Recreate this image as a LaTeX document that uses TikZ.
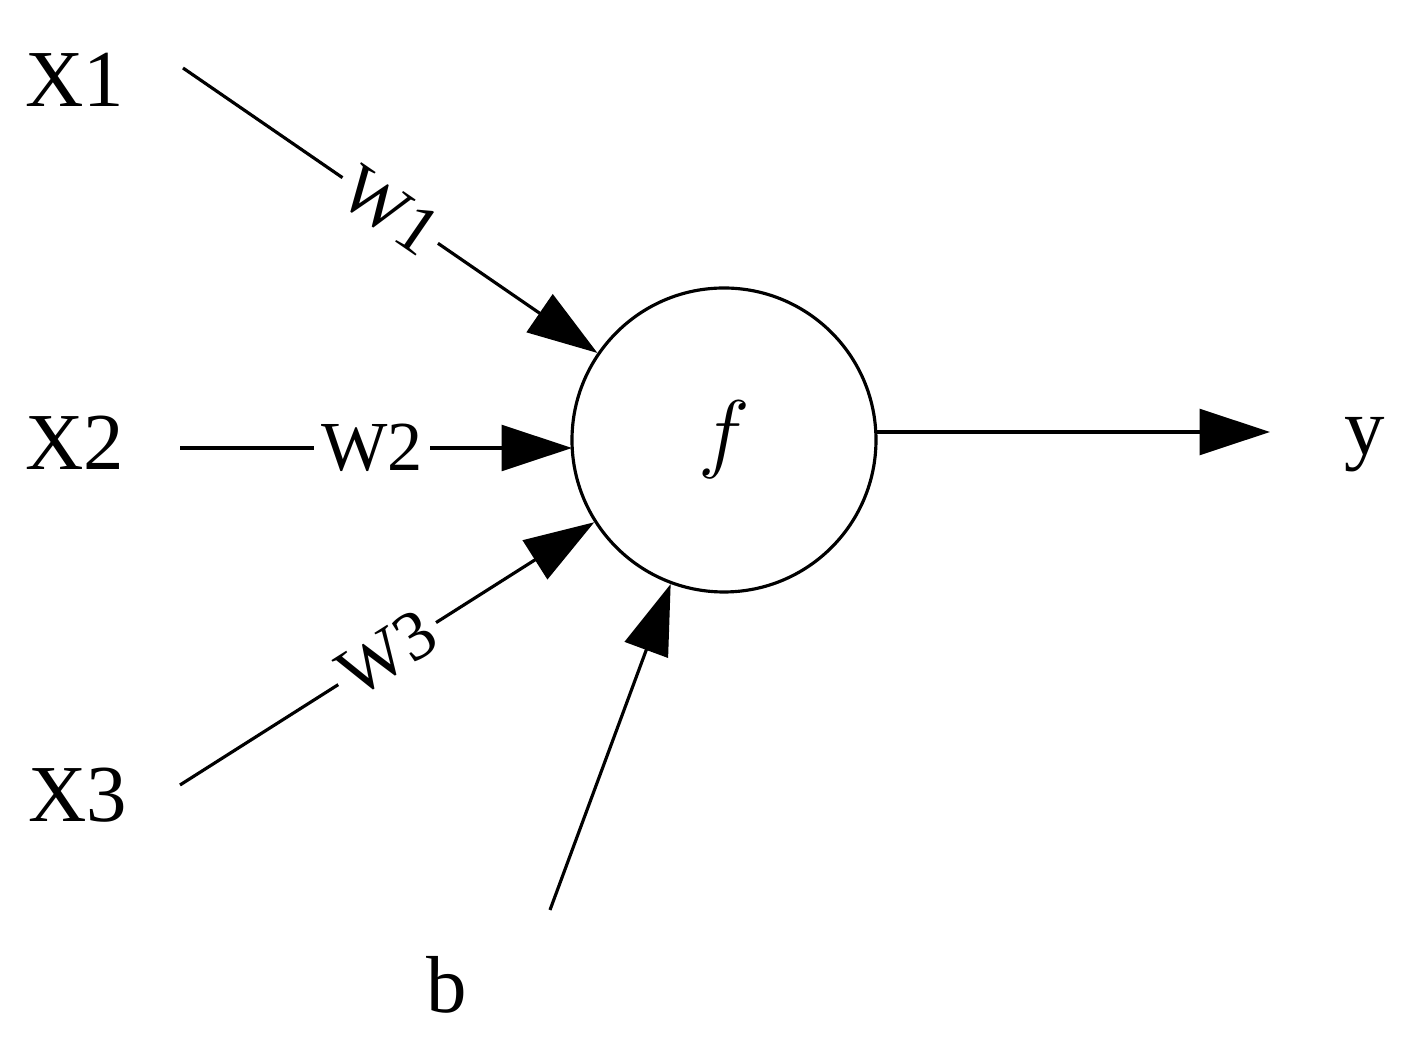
\documentclass[tikz,border=0pt]{standalone}
\usepackage{fontspec}
\setmainfont{Liberation Serif}
\usetikzlibrary{arrows.meta}
\begin{document}
\begin{tikzpicture}[x=1cm,y=-1cm,
  txt/.style={font=\fontsize{23}{26}\selectfont},
  wt/.style={font=\fontsize{20}{22}\selectfont,fill=white,inner sep=2pt},
  arr/.style={line width=0.9pt,-{Triangle[length=20pt,width=13pt]}}]
\useasboundingbox (0,0) rectangle (14.1,10.4);
\node[circle,draw,line width=0.9pt,minimum size=3.04cm,inner sep=0pt] (f) at (7.24,4.40) {\fontsize{23}{26}\selectfont$f$};
\node[txt] (x1) at (0.75,0.80) {X1};
\node[txt] (x2) at (0.75,4.43) {X2};
\node[txt] (x3) at (0.78,7.95) {X3};
\node[txt] (b) at (4.47,9.85) {b};
\node[txt] (y) at (13.65,4.45) {y};
\coordinate (s1) at (1.83,0.68);
\coordinate (s2) at (1.80,4.48);
\coordinate (s3) at (1.80,7.85);
\coordinate (sb) at (5.50,9.10);
\coordinate (e2) at (5.72,4.48);
\coordinate (ey) at (12.70,4.32);
\coordinate (o) at (8.75,4.32);
\draw[arr] (s1) -- (f) node[wt,pos=0.50,sloped] {W1};
\draw[arr] (s2) -- (e2) node[wt,pos=0.49] {W2};
\draw[arr] (s3) -- (f) node[wt,pos=0.50,sloped] {W3};
\draw[arr] (sb) -- (f);
\draw[arr] (o) -- (ey);
\end{tikzpicture}
\end{document}
